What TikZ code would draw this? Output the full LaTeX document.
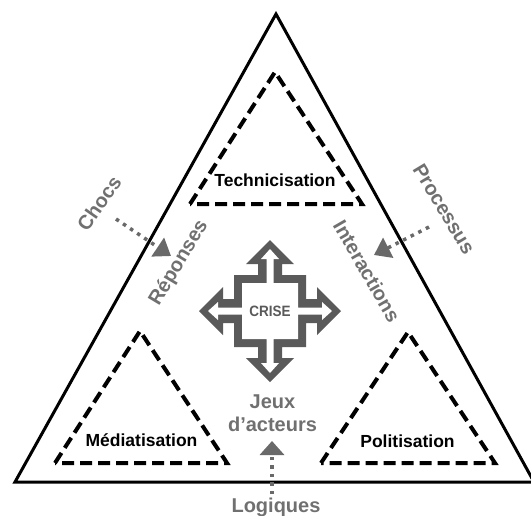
\documentclass[tikz,border=0pt]{standalone}
\usepackage{fontspec}
\setmainfont{Liberation Sans}
\usetikzlibrary{arrows.meta}
\definecolor{shapegray}{RGB}{90,90,90}
\definecolor{labelgray}{RGB}{112,112,112}
\definecolor{dotgray}{RGB}{105,105,105}
\begin{document}
\begin{tikzpicture}[x=1pt,y=-1pt,
  outertri/.style={draw=black, line width=3pt, line join=miter},
  dashtri/.style={draw=black, line width=4pt, dash pattern=on 12pt off 6pt, line join=miter},
  blacklabel/.style={font=\fontsize{17.5}{20}\selectfont\bfseries, text=black, inner sep=0pt, anchor=base},
  graylabel/.style={font=\fontsize{20}{23}\selectfont\bfseries, text=labelgray, inner sep=0pt},
  dotarrow/.style={draw=dotgray, line width=3.5pt, dash pattern=on 3.5pt off 5pt},
  crossband/.style={fill=shapegray},
  crossinner/.style={fill=white}
]
\useasboundingbox (0,0) rectangle (531,515);
\clip (0,0) rectangle (531,515);

% outer triangle
\coordinate (OA) at (276,14);
\coordinate (OL) at (15,482);
\coordinate (OR) at (534,482);
\draw[outertri] (OA) -- (OL) -- (OR) -- cycle;

% dashed triangles
\coordinate (TA) at (275,72);
\coordinate (TL) at (190,204);
\coordinate (TR) at (362,204);
\draw[dashtri] (TL) -- (TA) -- (TR) -- cycle;

\coordinate (MA) at (140,331);
\coordinate (ML) at (55,463);
\coordinate (MR) at (227,463);
\draw[dashtri] (ML) -- (MA) -- (MR) -- cycle;

\coordinate (PA) at (408,332);
\coordinate (PL) at (321,463);
\coordinate (PR) at (495,463);
\draw[dashtri] (PL) -- (PA) -- (PR) -- cycle;

% black labels
\node[blacklabel] (tech) at (275,186) {Technicisation};
\node[blacklabel] (medi) at (141.5,446.7) {Médiatisation};
\node[blacklabel] (poli) at (407.5,447) {Politisation};

% crise cross
\begin{scope}[shift={(270,311)}]
\fill[crossband] (0,-71) -- (-24,-47) -- (-12,-47) -- (-12,-36) -- (-36,-36) -- (-36,-12) -- (-47,-12) -- (-47,-24)
 -- (-71,0) -- (-47,24) -- (-47,12) -- (-36,12) -- (-36,36) -- (-12,36) -- (-12,47) -- (-24,47)
 -- (0,71) -- (24,47) -- (12,47) -- (12,36) -- (36,36) -- (36,12) -- (47,12) -- (47,24)
 -- (71,0) -- (47,-24) -- (47,-12) -- (36,-12) -- (36,-36) -- (12,-36) -- (12,-47) -- (24,-47) -- cycle;
\fill[crossinner] (0,-62) -- (-9,-52) -- (-3.5,-52) -- (-3.5,-28) -- (-28,-28) -- (-28,-3.5) -- (-52,-3.5) -- (-52,-9)
 -- (-62,0) -- (-52,9) -- (-52,3.5) -- (-28,3.5) -- (-28,28) -- (-3.5,28) -- (-3.5,52) -- (-9,52)
 -- (0,62) -- (9,52) -- (3.5,52) -- (3.5,28) -- (28,28) -- (28,3.5) -- (52,3.5) -- (52,9)
 -- (62,0) -- (52,-9) -- (52,-3.5) -- (28,-3.5) -- (28,-28) -- (3.5,-28) -- (3.5,-52) -- (9,-52) -- cycle;
\end{scope}
\node[font=\fontsize{15}{17}\selectfont\bfseries, text=shapegray, inner sep=0pt] (crise) at (270,311) {\scalebox{0.9}[1]{CRISE}};

% gray labels
\node[graylabel, rotate=55] (chocs) at (99,203) {Chocs};
\node[graylabel, rotate=59] (repo) at (179,263) {Réponses};
\node[graylabel, rotate=-59] (proc) at (444,209) {Processus};
\node[graylabel, rotate=-60] (inter) at (367,271) {Interactions};
\node[graylabel, anchor=base] (jeux) at (272.5,408.3) {Jeux};
\node[graylabel, anchor=base] (dact) at (272.5,431.5) {d’acteurs};
\node[graylabel, anchor=base] (logi) at (276,512) {Logiques};

% dotted arrows
\coordinate (chocsA) at (116,219);
\coordinate (chocsB) at (171,256);
\draw[dotarrow, -{Triangle[length=16pt,width=22pt]}] (chocsA) -- (chocsB);
\coordinate (procA) at (429,227);
\coordinate (procB) at (374,255);
\draw[dotarrow, -{Triangle[length=16pt,width=22pt]}] (procA) -- (procB);
\coordinate (logA) at (272,494);
\coordinate (logB) at (272,441);
\draw[dotarrow, -{Triangle[length=14pt,width=24pt]}] (logA) -- (logB);
\end{tikzpicture}
\end{document}
